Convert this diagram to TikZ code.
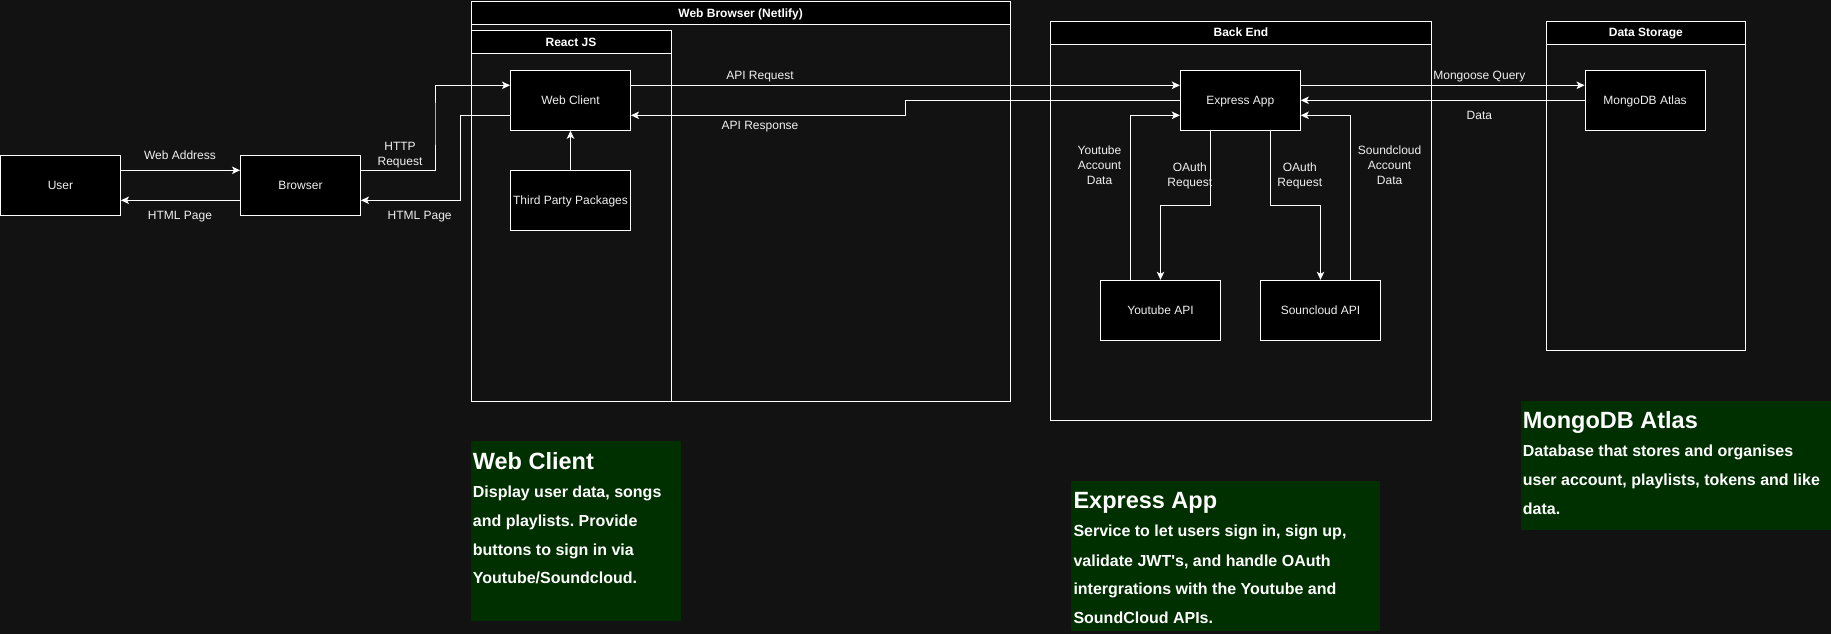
\documentclass[tikz,border=0pt]{standalone}
\usepackage{fontspec}
\setmainfont{Liberation Sans}
\usetikzlibrary{arrows.meta}
\definecolor{bg}{HTML}{121212}
\definecolor{greenbox}{HTML}{003000}
\definecolor{txt}{HTML}{F0F0F0}
\frenchspacing
\begin{document}
\begin{tikzpicture}[x=1pt,y=-1pt,
  box/.style={draw=white, fill=black, line width=1pt, minimum width=120pt, minimum height=60pt, inner sep=0pt, text=txt, text height=8.6pt, text depth=0pt, font=\fontsize{12}{15}\selectfont},
  container/.style={draw=white, line width=1pt, anchor=north west, inner sep=0pt},
  header/.style={draw=white, fill=black, line width=1pt, anchor=north west, minimum height=23pt, inner sep=0pt, text=white, text height=8.6pt, text depth=0pt, font=\fontsize{12}{15}\selectfont\bfseries},
  conn/.style={draw=white, line width=1pt, -{Stealth[length=8pt,width=7.5pt,inset=2pt]}},
  lbl/.style={inner sep=0pt, text=txt, align=center, font=\fontsize{12}{15}\selectfont},
  lblone/.style={inner sep=0pt, text=txt, text height=8.6pt, text depth=0pt, font=\fontsize{12}{15}\selectfont},
  descbox/.style={fill=greenbox, draw=none, anchor=north west, inner sep=0pt},
  dtitle/.style={anchor=base west, inner sep=0pt, text=white, font=\fontsize{23.5}{28}\selectfont\bfseries},
  dbody/.style={anchor=base west, inner sep=0pt, text=white, font=\fontsize{16}{20}\selectfont\bfseries}
]
\useasboundingbox (0,0) rectangle (1831,634);
\fill[bg] (0,0) rectangle (1831,634);

% description boxes
\node[descbox, minimum width=210.4pt, minimum height=180pt] (dwc) at (470.3,440.3) {};
\node[descbox, minimum width=309.7pt, minimum height=150pt] (dex) at (1070.3,480.3) {};
\node[descbox, minimum width=310.3pt, minimum height=129.7pt] (dmo) at (1520.7,400.3) {};

\node[dtitle] (dwct) at (472.7,469.5) {Web Client};
\node[dbody] (dwc1) at (472.7,497.7) {Display user data, songs};
\node[dbody] (dwc2) at (472.7,526.4) {and playlists. Provide};
\node[dbody] (dwc3) at (472.7,555.0) {buttons to sign in via};
\node[dbody] (dwc4) at (472.7,583.5) {Youtube/Soundcloud.};

\node[dtitle] (dext) at (1073.3,508.8) {Express App};
\node[dbody] (dex1) at (1073.3,536.7) {Service to let users sign in, sign up,};
\node[dbody] (dex2) at (1073.3,566.2) {validate JWT\textquotesingle s, and handle OAuth};
\node[dbody] (dex3) at (1073.3,594.9) {intergrations with the Youtube and};
\node[dbody] (dex4) at (1073.3,623.3) {SoundCloud APIs.};

\node[dtitle] (dmot) at (1522.7,428.8) {MongoDB Atlas};
\node[dbody] (dmo1) at (1522.7,456.7) {Database that stores and organises};
\node[dbody] (dmo2) at (1522.7,485.5) {user account, playlists, tokens and like};
\node[dbody] (dmo3) at (1522.7,514.2) {data.};

% containers
\node[container, minimum width=539.3pt, minimum height=399.5pt] (wb) at (470.5,1) {};
\node[header, minimum width=539.3pt] (wbh) at (470.5,1) {Web Browser (Netlify)};
\node[container, minimum width=200pt, minimum height=370.2pt] (rj) at (470.5,30.3) {};
\node[header, minimum width=200pt] (rjh) at (470.5,30.3) {React JS};
\node[container, minimum width=380.1pt, minimum height=399.3pt] (be) at (1050.4,20.7) {};
\node[header, minimum width=380.1pt] (beh) at (1050.4,20.7) {Back End};
\node[container, minimum width=199.8pt, minimum height=329.3pt] (ds) at (1545.5,20.7) {};
\node[header, minimum width=199.8pt] (dsh) at (1545.5,20.7) {Data Storage};

% boxes
\node[box] (user) at (60.5,185.3) {User};
\node[box] (browser) at (300.5,185.3) {Browser};
\node[box] (webclient) at (570.5,100.3) {Web Client};
\node[box] (third) at (570.5,200.3) {Third Party Packages};
\node[box] (express) at (1240.3,100.3) {Express App};
\node[box] (mongo) at (1645,100.3) {MongoDB Atlas};
\node[box] (ytapi) at (1160.5,310.3) {Youtube API};
\node[box] (scapi) at (1320.5,310.3) {Souncloud API};

% helper coordinates
\coordinate (h1) at (435,120);
\coordinate (h2) at (460.7,150);
\coordinate (a1) at (905.4,108);
\coordinate (o1) at (1185,205.7);
\coordinate (o2) at (1295,205.7);

% connectors
\draw[conn] ([yshift=15pt]user.east) -- ([yshift=15pt]browser.west);
\draw[conn] ([yshift=-15pt]browser.west) -- ([yshift=-15pt]user.east);
\draw[conn] ([yshift=15pt]browser.east) -| (h1) |- ([yshift=15pt]webclient.west);
\draw[conn] ([yshift=-15pt]webclient.west) -| (h2) |- ([yshift=-15pt]browser.east);
\draw[conn] (third.north) -- (webclient.south);
\draw[conn] ([yshift=15pt]webclient.east) -- ([yshift=15pt]express.west);
\draw[conn] (express.west) -| (a1) |- ([yshift=-15pt]webclient.east);
\draw[conn] ([yshift=15pt]express.east) -- ([yshift=15pt]mongo.west);
\draw[conn] (mongo.west) -- (express.east);
\draw[conn] ([xshift=-30pt]ytapi.north) |- ([yshift=-15pt]express.west);
\draw[conn] ([xshift=-30pt]express.south) |- (o1) -| (ytapi.north);
\draw[conn] ([xshift=30pt]express.south) |- (o2) -| (scapi.north);
\draw[conn] ([xshift=30pt]scapi.north) |- ([yshift=-15pt]express.east);

% labels
\node[lblone] (l1) at (180,155) {Web Address};
\node[lblone] (l2) at (180,215) {HTML Page};
\node[lbl] (l3) at (400,155) {HTTP\\Request};
\node[lblone] (l4) at (419.6,215) {HTML Page};
\node[lblone] (l5) at (760,75) {API Request};
\node[lblone] (l6) at (760,125) {API Response};
\node[lblone] (l7) at (1479.4,75) {Mongoose Query};
\node[lblone] (l8) at (1479.4,115) {Data};
\node[lbl] (l9) at (1099.5,165.5) {Youtube\\Account\\Data};
\node[lbl] (l10) at (1189.8,175.5) {OAuth\\Request};
\node[lbl] (l11) at (1299.8,175.5) {OAuth\\Request};
\node[lbl] (l12) at (1389.6,165.5) {Soundcloud\\Account\\Data};
\end{tikzpicture}
\end{document}
